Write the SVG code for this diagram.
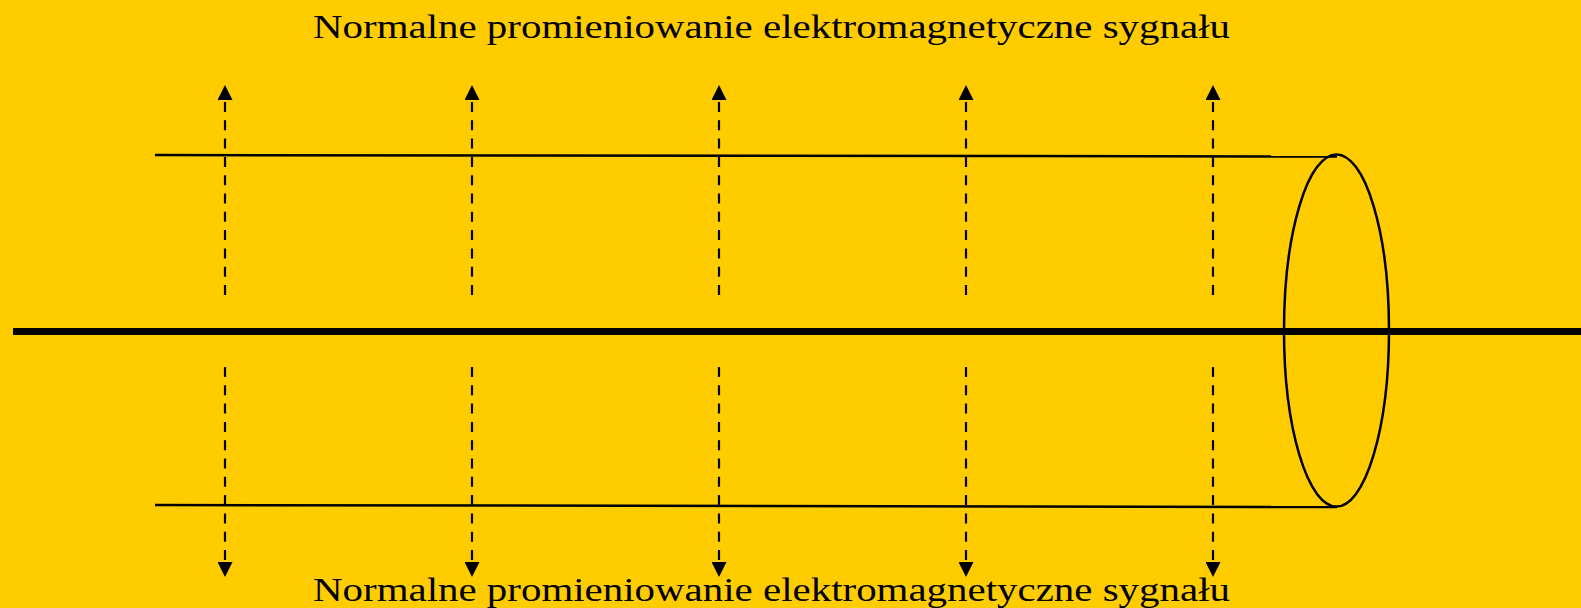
<svg xmlns="http://www.w3.org/2000/svg" width="1581" height="608" viewBox="0 0 1581 608">
  <style>
    .bg { fill: #FFCC00; }
    .wire { stroke: #000; stroke-width: 7; fill: none; }
    .shield { stroke: #000; stroke-width: 2.5; fill: none; }
    .ray { stroke: #000; stroke-width: 2.2; stroke-dasharray: 10 8.3; fill: none; marker-end: url(#head); }
    .label { font-family: "Liberation Serif", "Times New Roman", serif; font-size: 34px; fill: #000; }
  </style>
  <defs>
    <marker id="head" viewBox="0 0 15 15" markerWidth="15" markerHeight="15" refX="0" refY="7.5" orient="auto" markerUnits="userSpaceOnUse">
      <path d="M0,0 L15,7.5 L0,15 Z" fill="#000"/>
    </marker>
  </defs>
  <rect class="bg" x="0" y="0" width="1581" height="608"/>

  <g id="cable">
    <line class="shield" x1="155" y1="155" x2="1337" y2="156.5"/>
    <line class="shield" x1="155" y1="505" x2="1337" y2="507"/>
    <ellipse class="shield" cx="1336.5" cy="330.5" rx="52.5" ry="176"/>
    <line class="wire" x1="13" y1="331.5" x2="1581" y2="331.5"/>
  </g>

  <g id="connectors">
    <line class="ray" x1="225" y1="295" x2="225" y2="100"/>
    <line class="ray" x1="472" y1="295" x2="472" y2="100"/>
    <line class="ray" x1="719" y1="295" x2="719" y2="100"/>
    <line class="ray" x1="966" y1="295" x2="966" y2="100"/>
    <line class="ray" x1="1213" y1="295" x2="1213" y2="100"/>
    <line class="ray" x1="225" y1="367" x2="225" y2="562"/>
    <line class="ray" x1="472" y1="367" x2="472" y2="562"/>
    <line class="ray" x1="719" y1="367" x2="719" y2="562"/>
    <line class="ray" x1="966" y1="367" x2="966" y2="562"/>
    <line class="ray" x1="1213" y1="367" x2="1213" y2="562"/>
  </g>

  <g id="label-top">
    <text class="label" x="313" y="38" textLength="917" lengthAdjust="spacingAndGlyphs">Normalne promieniowanie elektromagnetyczne sygnału</text>
  </g>
  <g id="label-bottom">
    <text class="label" x="313" y="601" textLength="917" lengthAdjust="spacingAndGlyphs">Normalne promieniowanie elektromagnetyczne sygnału</text>
  </g>
</svg>
